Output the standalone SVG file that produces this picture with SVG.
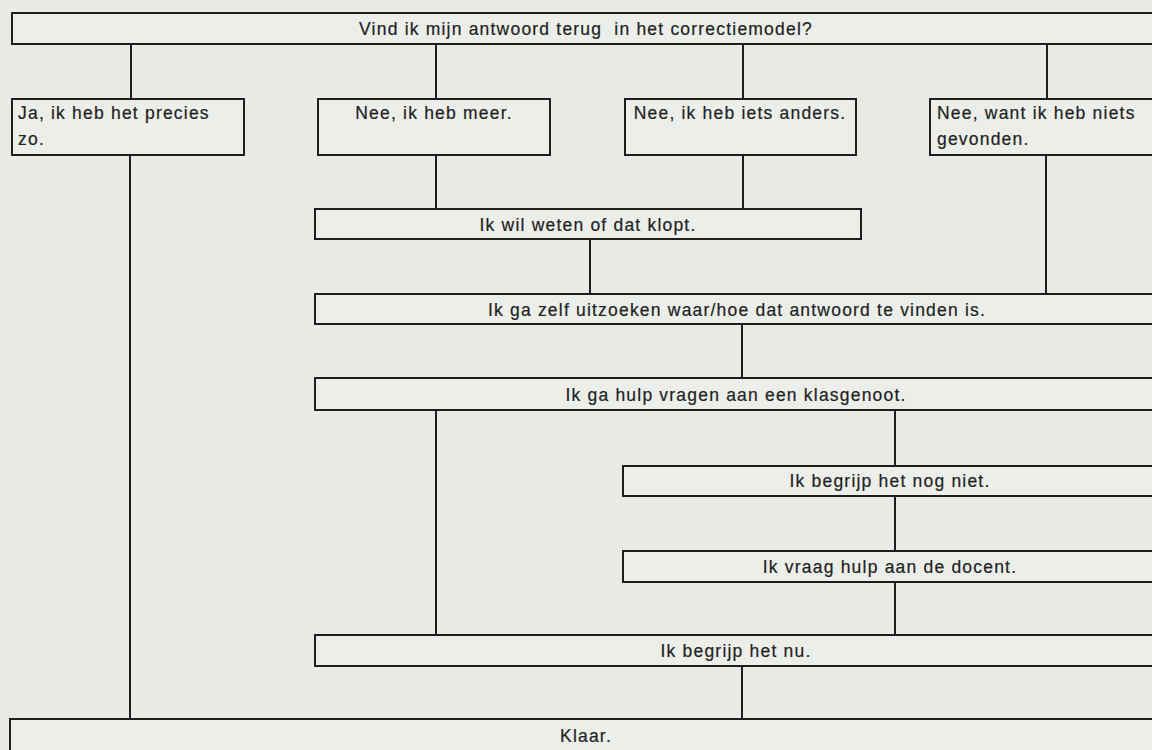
<svg xmlns="http://www.w3.org/2000/svg" width="1152" height="750" viewBox="0 0 1152 750">
  <style>
    .bg { fill: #e8eae5; }
    .box { fill: #eceee9; stroke: #1e1e1e; stroke-width: 2; }
    .conn line { stroke: #1e1e1e; stroke-width: 2; }
    .t { font-family: "Liberation Sans", Arial, sans-serif; font-size: 17.5px; letter-spacing: 1.2px; fill: #222222; stroke: #222222; stroke-width: 0.2px; }
    .c { text-anchor: middle; }
  </style>
  <rect class="bg" x="0" y="0" width="1152" height="750"/>

  <g id="connectors" class="conn">
    <line x1="131" y1="44" x2="131" y2="99"/>
    <line x1="436" y1="44" x2="436" y2="99"/>
    <line x1="743" y1="44" x2="743" y2="99"/>
    <line x1="1047" y1="44" x2="1047" y2="99"/>
    <line x1="130" y1="155" x2="130" y2="719"/>
    <line x1="436" y1="155" x2="436" y2="209"/>
    <line x1="743" y1="155" x2="743" y2="209"/>
    <line x1="1046" y1="155" x2="1046" y2="294"/>
    <line x1="590" y1="239" x2="590" y2="294"/>
    <line x1="742" y1="324" x2="742" y2="378"/>
    <line x1="436" y1="410" x2="436" y2="635"/>
    <line x1="895" y1="410" x2="895" y2="466"/>
    <line x1="895" y1="496" x2="895" y2="551"/>
    <line x1="895" y1="582" x2="895" y2="635"/>
    <line x1="742" y1="666" x2="742" y2="719"/>
  </g>

  <g id="vraag">
    <rect class="box" x="12" y="13" width="1150" height="31"/>
    <text class="t c" x="586" y="35" xml:space="preserve">Vind ik mijn antwoord terug  in het correctiemodel?</text>
  </g>
  <g id="ja">
    <rect class="box" x="12" y="99" width="232" height="56"/>
    <text class="t" x="18" y="119">Ja, ik heb het precies</text>
    <text class="t" x="18" y="145">zo.</text>
  </g>
  <g id="meer">
    <rect class="box" x="318" y="99" width="232" height="56"/>
    <text class="t c" x="434" y="119">Nee, ik heb meer.</text>
  </g>
  <g id="anders">
    <rect class="box" x="625" y="99" width="231" height="56"/>
    <text class="t c" x="740" y="119">Nee, ik heb iets anders.</text>
  </g>
  <g id="niets">
    <rect class="box" x="930" y="99" width="235" height="56"/>
    <text class="t" x="937" y="119">Nee, want ik heb niets</text>
    <text class="t" x="937" y="145">gevonden.</text>
  </g>
  <g id="klopt">
    <rect class="box" x="315" y="209" width="546" height="30"/>
    <text class="t c" x="588" y="231">Ik wil weten of dat klopt.</text>
  </g>
  <g id="uitzoeken">
    <rect class="box" x="315" y="294" width="850" height="30"/>
    <text class="t c" x="737" y="316">Ik ga zelf uitzoeken waar/hoe dat antwoord te vinden is.</text>
  </g>
  <g id="klasgenoot">
    <rect class="box" x="315" y="378" width="850" height="32"/>
    <text class="t c" x="736" y="401">Ik ga hulp vragen aan een klasgenoot.</text>
  </g>
  <g id="nogniet">
    <rect class="box" x="623" y="466" width="542" height="30"/>
    <text class="t c" x="890" y="487">Ik begrijp het nog niet.</text>
  </g>
  <g id="docent">
    <rect class="box" x="623" y="551" width="542" height="31"/>
    <text class="t c" x="890" y="573">Ik vraag hulp aan de docent.</text>
  </g>
  <g id="nu">
    <rect class="box" x="315" y="635" width="850" height="31"/>
    <text class="t c" x="736" y="657">Ik begrijp het nu.</text>
  </g>
  <g id="klaar">
    <rect class="box" x="10" y="719" width="1155" height="45"/>
    <text class="t c" x="586" y="742">Klaar.</text>
  </g>
</svg>
